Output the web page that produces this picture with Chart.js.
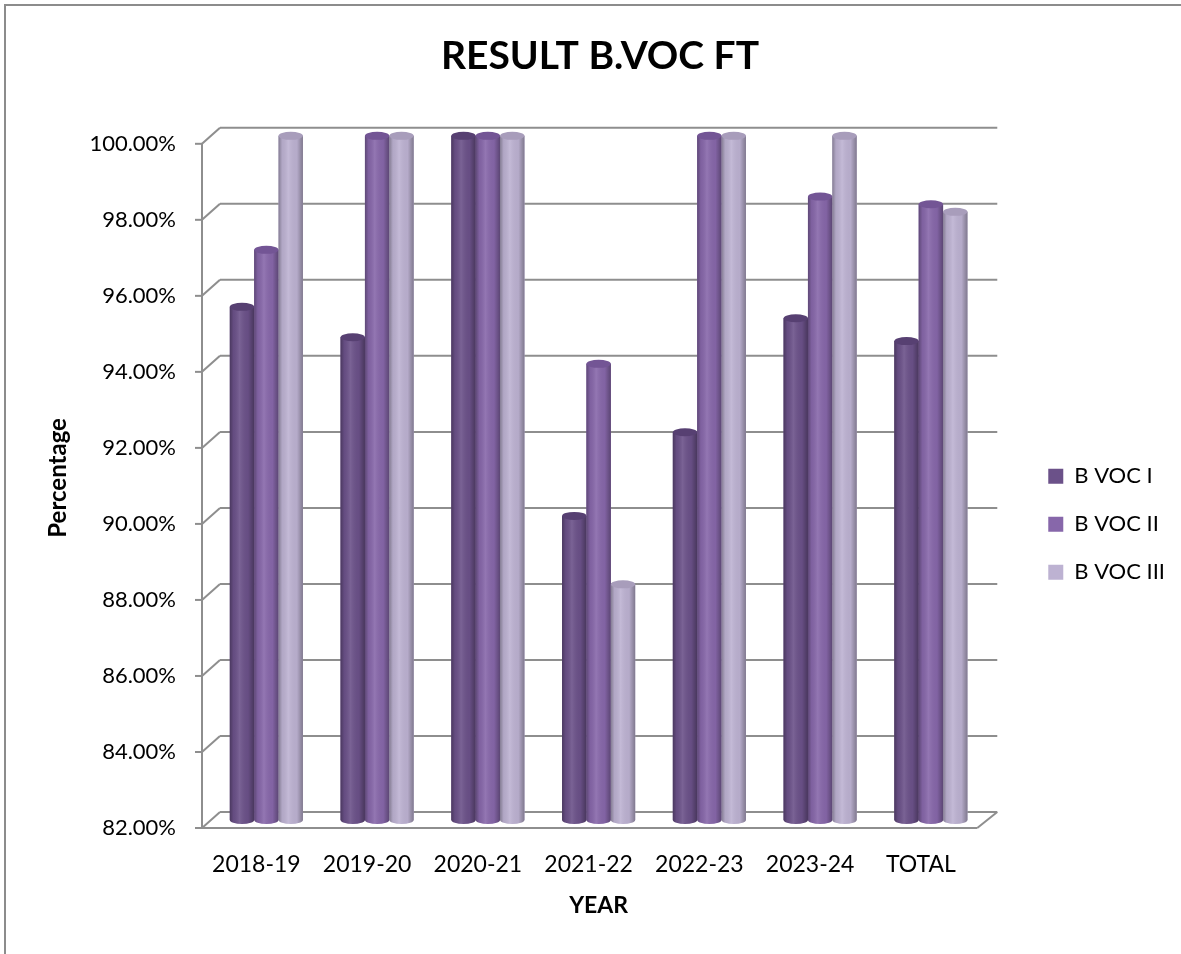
<!DOCTYPE html>
<html>
<head>
<meta charset="utf-8">
<script src="https://cdn.jsdelivr.net/npm/chart.js@4.4.1/dist/chart.umd.min.js"></script>
<style>
  html, body { margin: 0; padding: 0; background: #fff; overflow: hidden; }
  .frame { position: relative; width: 1181px; height: 954px; }
  .border { position: absolute; left: 4px; top: 4px; width: 1300px; height: 1100px; border: 2px solid #8c8c8c; }
  .box { position: absolute; left: 0; top: 0; width: 1181px; height: 954px; }
</style>
</head>
<body>
<div class="frame">
  <div class="border"></div>
  <div class="box"><canvas id="chart"></canvas></div>
</div>
<script>
const years = ['2018-19', '2019-20', '2020-21', '2021-22', '2022-23', '2023-24', 'TOTAL'];
const bvoc1 = [95.5, 94.7, 100, 90.0, 92.2, 95.2, 94.6];
const bvoc2 = [97.0, 100, 100, 94.0, 100, 98.4, 98.2];
const bvoc3 = [100, 100, 100, 88.2, 100, 100, 98.0];
const seriesNames = ['B VOC I', 'B VOC II', 'B VOC III'];
const yMin = 82, yMax = 100, yStep = 2;

const barColors = ['#6b5189', '#8767aa', '#bdb2d2'];
const capColors = ['#574072', '#735595', '#a89dbb'];

Chart.defaults.font.family = 'Lato, "Open Sans", sans-serif';
Chart.defaults.color = '#000';

const DX = 9, DY = 8;

// back wall, side wall and floor of the 3-D look
const wallPlugin = {
  id: 'walls',
  beforeDatasetsDraw(chart) {
    const { ctx, chartArea: { left, right, top, bottom }, scales: { y } } = chart;
    const line = (x1, y1, x2, y2) => { ctx.beginPath(); ctx.moveTo(x1, y1); ctx.lineTo(x2, y2); ctx.stroke(); };
    ctx.save();
    ctx.strokeStyle = '#8e8e8e';
    ctx.lineWidth = 2;
    y.ticks.forEach(t => {
      const py = y.getPixelForValue(t.value);
      line(left + DX, py - DY, right + DX + 2, py - DY);
      line(left - DX, py + DY, left + DX, py - DY);
      line(left - DX - 7, py + DY, left - DX, py + DY);
    });
    line(left - DX, top + DY, left - DX, bottom + DY);
    line(left - DX, bottom + DY, right - DX, bottom + DY);
    line(right - DX, bottom + DY, right + DX + 2, bottom - DY);
    ctx.restore();
  }
};

// cylinder shading on each bar
const cylinderPlugin = {
  id: 'cylinders',
  afterDatasetsDraw(chart) {
    const ctx = chart.ctx;
    const floor = chart.chartArea.bottom;
    chart.data.datasets.forEach((ds, di) => {
      chart.getDatasetMeta(di).data.forEach(bar => {
        const { x, y, width } = bar;
        const base = Math.min(bar.base, floor);
        const l = x - width / 2, r = x + width / 2, ry = 4;
        ctx.save();
        ctx.beginPath();
        ctx.moveTo(l, y);
        ctx.lineTo(l, base);
        ctx.ellipse(x, base, width / 2, ry, 0, Math.PI, 0, true);
        ctx.lineTo(r, y);
        ctx.closePath();
        ctx.fillStyle = barColors[di];
        ctx.fill();
        const g = ctx.createLinearGradient(l, 0, r, 0);
        g.addColorStop(0, 'rgba(0,0,0,0.30)');
        g.addColorStop(0.15, 'rgba(0,0,0,0.06)');
        g.addColorStop(0.4, 'rgba(255,255,255,0.10)');
        g.addColorStop(0.75, 'rgba(0,0,0,0.04)');
        g.addColorStop(1, 'rgba(0,0,0,0.32)');
        ctx.fillStyle = g;
        ctx.fill();
        ctx.beginPath();
        ctx.ellipse(x, y, width / 2, ry, 0, 0, Math.PI * 2);
        ctx.fillStyle = capColors[di];
        ctx.fill();
        ctx.restore();
      });
    });
  }
};

new Chart(document.getElementById('chart'), {
  type: 'bar',
  data: {
    labels: years,
    datasets: [bvoc1, bvoc2, bvoc3].map((d, i) => ({
      label: seriesNames[i],
      data: d,
      backgroundColor: barColors[i],
      borderWidth: 0,
      barPercentage: 1.0,
      categoryPercentage: 0.66
    }))
  },
  options: {
    responsive: true,
    maintainAspectRatio: false,
    animation: false,
    layout: { padding: { left: 25, right: 6, top: 10, bottom: 10 } },
    plugins: {
      title: {
        display: true,
        text: 'RESULT B.VOC FT',
        font: { size: 39, weight: 'bold' },
        color: '#000',
        padding: { top: 23, bottom: 56 }
      },
      legend: {
        position: 'right',
        title: { display: true, text: '', padding: { top: 80, bottom: 0 } },
        labels: { boxWidth: 15, boxHeight: 15, padding: 26, font: { size: 22 }, color: '#000' }
      },
      tooltip: { enabled: false }
    },
    scales: {
      x: {
        grid: { display: false, drawTicks: false },
        border: { display: false },
        ticks: { padding: 31, labelOffset: -10, font: { size: 23 }, maxRotation: 0 },
        title: { display: true, text: 'YEAR', font: { size: 23, weight: 'bold' }, padding: { top: 0, bottom: 25 } },
        afterFit: s => { s.height = 124; }
      },
      y: {
        min: yMin,
        max: yMax,
        grid: { display: false, drawTicks: false },
        border: { display: false },
        ticks: {
          stepSize: yStep,
          padding: 35,
          labelOffset: 8,
          font: { size: 22 },
          callback: v => v.toFixed(2) + '%'
        },
        title: { display: true, text: 'Percentage', font: { size: 24, weight: 'bold' }, padding: { top: 19, bottom: 0 } },
        afterFit: s => { s.width = 186; }
      },
      pad: {
        type: 'linear',
        position: 'right',
        display: true,
        grid: { display: false, drawTicks: false },
        border: { display: false },
        ticks: { display: false },
        afterFit: s => { s.width = 36; }
      }
    }
  },
  plugins: [wallPlugin, cylinderPlugin]
});
</script>
</body>
</html>
